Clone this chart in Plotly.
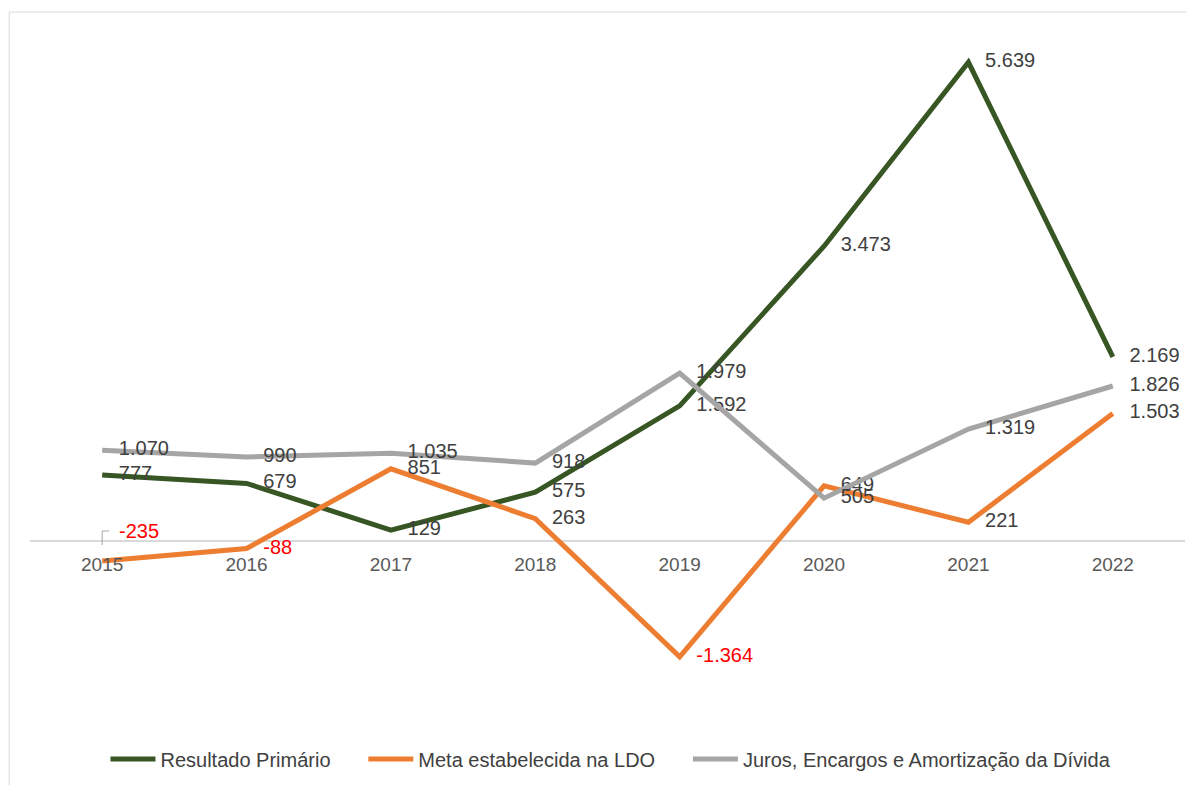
import plotly.graph_objects as go

years = ["2015", "2016", "2017", "2018", "2019", "2020", "2021", "2022"]
resultado = [777, 679, 129, 575, 1592, 3473, 5639, 2169]
meta = [-235, -88, 851, 263, -1364, 649, 221, 1503]
juros = [1070, 990, 1035, 918, 1979, 505, 1319, 1826]

names = ["Resultado Primário", "Meta estabelecida na LDO", "Juros, Encargos e Amortização da Dívida"]
colors = ["#375623", "#ED7D31", "#A5A5A5"]

Y_RANGE = [-2108, 6137]

def fmt(v):
    return f"{v:,}".replace(",", ".")

PAD = "\u00a0\u00a0\u00a0"
GAP = "\u00a0" * 5
LABEL = "#404040"
FONT = "Liberation Sans, Arial, sans-serif"

fig = go.Figure()

for i, (name, vals, col) in enumerate(zip(names, [resultado, meta, juros], colors)):
    texts = [PAD + fmt(v) for v in vals]
    tcolors = ["#FF0000" if v < 0 else LABEL for v in vals]
    if vals is meta:
        texts[0] = ""
    fig.add_trace(go.Scatter(
        x=years, y=vals, name=name + (GAP if i < len(names) - 1 else ""),
        mode="lines+text",
        line=dict(color=col, width=5),
        text=texts, textposition="middle right",
        textfont=dict(size=20, color=tcolors, family=FONT),
        cliponaxis=False, hoverinfo="skip",
    ))

# label of the first LDO target with its small leader line
fig.add_annotation(
    x=0, y=meta[0], text=fmt(meta[0]), showarrow=False,
    xanchor="left", yanchor="middle", xshift=15, yshift=30,
    font=dict(size=20, color="#FF0000", family=FONT),
)
fig.add_shape(type="path", xref="x", yref="y",
              xsizemode="pixel", ysizemode="pixel",
              xanchor=0, yanchor=meta[0],
              path="M 0 16 L 0 30 L 7 30",
              line=dict(color="#A6A6A6", width=1))

fig.add_shape(type="rect", xref="paper", yref="paper",
              x0=-0.018, x1=1.2, y0=-0.3, y1=1.0114,
              line=dict(color="#D9D9D9", width=1), layer="below")

fig.update_layout(
    width=1186, height=777,
    margin=dict(l=22, r=9, t=12, b=65, autoexpand=False),
    paper_bgcolor="white", plot_bgcolor="white",
    font=dict(family=FONT, color=LABEL),
    separators=",.",
    showlegend=True,
    legend=dict(orientation="h", x=0.503, xanchor="center", y=-0.028, yanchor="top",
                font=dict(size=20, color=LABEL, family=FONT),
                itemwidth=45, traceorder="normal"),
)
fig.update_xaxes(type="category", range=[-0.5, len(years) - 0.5],
                 showgrid=False, showline=False, ticks="",
                 tickfont=dict(size=19, color="#595959", family=FONT),
                 ticklabelstandoff=10,
                 anchor="free", position=(0 - Y_RANGE[0]) / (Y_RANGE[1] - Y_RANGE[0]))
fig.update_yaxes(range=Y_RANGE, showgrid=False, showticklabels=False,
                 zeroline=True, zerolinecolor="#D9D9D9", zerolinewidth=2)

fig.write_html("out.html")
